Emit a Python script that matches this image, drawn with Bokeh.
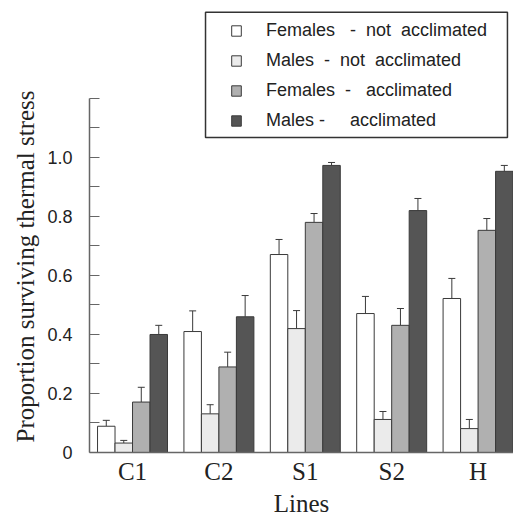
from bokeh.plotting import figure
from bokeh.models import (ColumnDataSource, FixedTicker, Whisker, TeeHead, Legend,
                          LegendItem, BoxAnnotation, Range1d, Title)
from bokeh.embed import file_html
from bokeh.resources import INLINE

NB = "\u00a0"

lines = ["C1", "C2", "S1", "S2", "H"]
series_names = ["Females - not acclimated", "Males - not acclimated",
                "Females - acclimated", "Males - acclimated"]
legend_labels = [
    "Females" + NB * 3 + "-" + NB * 2 + "not" + NB * 2 + "acclimated",
    "Males" + NB * 2 + "-" + NB * 2 + "not" + NB * 2 + "acclimated",
    "Females" + NB * 2 + "-" + NB * 3 + "acclimated",
    "Males" + NB + "-" + NB * 5 + "acclimated",
]

f_not = [0.089, 0.41, 0.671, 0.471, 0.522]
f_not_err = [0.109, 0.48, 0.722, 0.529, 0.59]
m_not = [0.032, 0.131, 0.42, 0.112, 0.081]
m_not_err = [0.041, 0.162, 0.481, 0.139, 0.112]
f_acc = [0.171, 0.29, 0.78, 0.431, 0.753]
f_acc_err = [0.221, 0.34, 0.81, 0.488, 0.793]
m_acc = [0.40, 0.46, 0.973, 0.82, 0.953]
m_acc_err = [0.431, 0.532, 0.983, 0.861, 0.973]

y_ticks = [0, 0.2, 0.4, 0.6, 0.8, 1.0, 1.2]
y_tick_labels = ["0", "0.2", "0.4", "0.6", "0.8", "1.0", ""]
y_minor = [0.1, 0.3, 0.5, 0.7, 0.9, 1.1]

values = [f_not, m_not, f_acc, m_acc]
errors = [f_not_err, m_not_err, f_acc_err, m_acc_err]
fills = ["#ffffff", "#ebebeb", "#b0b0b0", "#555555"]

bar_w = 0.2025
offsets = [-1.5, -0.5, 0.5, 1.5]

p = figure(width=513, height=519, output_backend="svg", toolbar_location=None,
           x_range=Range1d(-0.498, 4.41), y_range=Range1d(0, 1.532),
           min_border_left=89, min_border_right=0, min_border_top=0,
           min_border_bottom=67)
p.outline_line_color = None
p.xgrid.visible = False
p.ygrid.visible = False
p.background_fill_color = "white"

items = []
for k in range(4):
    xs = [i + offsets[k] * bar_w for i in range(len(lines))]
    src = ColumnDataSource(dict(x=xs, top=values[k], err=errors[k]))
    r = p.vbar(x="x", top="top", bottom=0, width=bar_w, source=src,
               fill_color=fills[k], line_color="#3a3a3a", line_width=1)
    w = Whisker(base="x", lower="top", upper="err", source=src, dimension="height",
                lower_head=None,
                upper_head=TeeHead(size=7, line_color="#3a3a3a", line_width=1),
                line_color="#3a3a3a", line_width=1)
    p.add_layout(w)
    items.append(LegendItem(label=legend_labels[k], renderers=[r]))

# y axis
ya = p.yaxis[0]
ya.ticker = FixedTicker(ticks=y_ticks, minor_ticks=y_minor)
ya.major_label_overrides = {t: l for t, l in zip(y_ticks, y_tick_labels)}
ya.bounds = (0, 1.2)
ya.major_tick_in = 10
ya.major_tick_out = 0
ya.minor_tick_in = 10
ya.minor_tick_out = 0
ya.axis_line_color = "#666666"
ya.axis_line_width = 1.5
ya.major_tick_line_color = "#666666"
ya.minor_tick_line_color = "#666666"
ya.major_label_standoff = 17
ya.major_label_text_font = "Liberation Sans"
ya.major_label_text_font_size = "18px"
ya.major_label_text_color = "#222222"

ytitle = Title(text="Proportion surviving thermal stress", align="left", offset=10,
               standoff=12, text_font="Liberation Serif", text_font_size="25px",
               text_font_style="normal", text_color="#222222")
p.add_layout(ytitle, "left")

# x axis
xa = p.xaxis[0]
xa.ticker = FixedTicker(ticks=list(range(len(lines))), minor_ticks=[])
xa.major_label_overrides = {i: l for i, l in enumerate(lines)}
xa.major_tick_in = 0
xa.major_tick_out = 0
xa.minor_tick_in = 0
xa.minor_tick_out = 0
xa.axis_line_color = "#666666"
xa.axis_line_width = 1.5
xa.major_label_standoff = 5
xa.major_label_text_font = "Liberation Serif"
xa.major_label_text_font_size = "25px"
xa.major_label_text_color = "#222222"
xa.axis_label = "Lines"
xa.axis_label_text_font = "Liberation Serif"
xa.axis_label_text_font_size = "25px"
xa.axis_label_text_font_style = "normal"
xa.axis_label_text_color = "#222222"
xa.axis_label_standoff = 2

legend = Legend(items=items, location=(141, 321), orientation="vertical",
                border_line_color=None, background_fill_color="white",
                background_fill_alpha=1.0, padding=5, spacing=8, margin=0,
                label_height=22, glyph_width=12, glyph_height=13,
                label_standoff=24, label_text_font="Liberation Sans",
                label_text_font_size="18px", label_text_color="#222222")
p.add_layout(legend)

frame_box = BoxAnnotation(left=0.845, right=4.34, bottom=1.068, top=1.492,
                          fill_color=None, line_color="#333333", line_width=1.5,
                          line_alpha=1.0)
p.add_layout(frame_box)

open("out.html", "w").write(file_html(p, INLINE))
